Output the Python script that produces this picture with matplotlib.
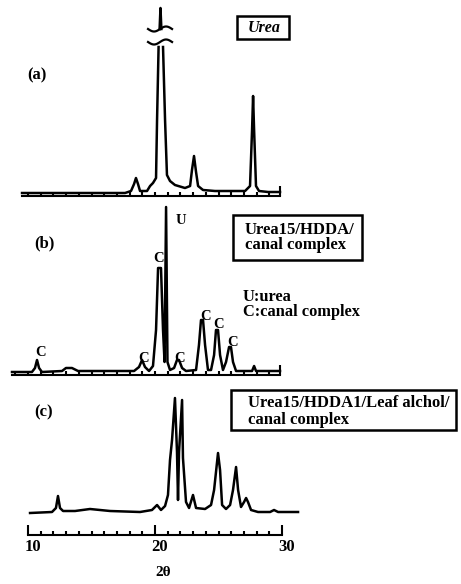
import numpy as np
import matplotlib
matplotlib.use("Agg")
import matplotlib.pyplot as plt
from matplotlib.patches import Rectangle
from matplotlib.ticker import FixedLocator
from matplotlib.transforms import ScaledTranslation

# ---------------- data (2theta in degrees, intensity in arbitrary units) ----------------
# (a) Urea
a_2theta = [9.53, 17.64, 18.11, 18.35, 18.50, 18.66, 18.82, 19.37, 19.61, 19.84, 20.08, 20.16, 20.28,
            np.nan, 20.63, 20.79, 20.94, 21.18, 21.57, 22.36, 22.76, 22.91, 23.07, 23.23, 23.39, 23.78,
            24.72, 27.09, 27.48, 27.64, 27.72, 27.80, 27.95, 28.19, 28.90, 29.84]
a_int = [2, 2, 4, 11, 17, 11, 4, 4, 9, 12, 17, 75, 148,
         np.nan, 148, 75, 20, 14, 10, 7, 9, 25, 39, 23, 9, 5,
         4, 4, 9, 65, 99, 65, 9, 4, 3, 3]
# top of the off-scale main urea peak (above the axis break)
a_top_2theta = [20.36, 20.43, 20.50]
a_top_int = [166, 187, 166]
a_break_2theta = (19.45, 21.34)
a_break_int = [166, 153]
a_range = (9.53, 29.84)

# (b) Urea15/HDDA/canal complex
b_2theta = [8.74, 10.31, 10.55, 10.71, 10.87, 11.10, 12.68, 12.99, 13.46, 13.94, 18.35, 18.74, 18.98,
            19.21, 19.53, 19.84, 20.08, 20.24, 20.47, 20.63, 20.75, 20.87, 20.98, 21.18, 21.50, 21.73,
            21.89, 22.13, 22.44, 23.23, 23.46, 23.62, 23.78, 23.94, 24.17, 24.41, 24.65, 24.80, 24.96,
            25.12, 25.35, 25.59, 25.83, 25.98, 26.14, 26.38, 27.64, 27.80, 27.95, 29.84]
b_int = [1, 1, 5, 13, 5, 1, 2, 5, 5, 2, 2, 6, 13,
         6, 2, 7, 43, 105, 105, 43, 11, 166, 11, 3, 5, 13,
         13, 5, 2, 3, 28, 53, 53, 28, 3, 3, 18, 43, 43,
         18, 3, 11, 26, 26, 11, 2, 2, 7, 2, 2]
b_range = (8.74, 29.84)
b_c_2theta = [11.02, 19.13, 20.31, 21.97, 23.94, 25.04, 26.14]
b_c_int = [20, 15, 115, 15, 56, 48, 31]
b_u_2theta = 22.05
b_u_int = 152

# (c) Urea15/HDDA1/Leaf alchol/canal complex
c_2theta = [10.16, 11.89, 12.20, 12.36, 12.52, 12.76, 13.70, 14.88, 16.46, 18.82, 19.76, 20.16, 20.47,
            20.79, 21.02, 21.18, 21.34, 21.57, 21.73, 21.81, 21.89, 22.13, 22.20, 22.44, 22.68, 22.99,
            23.23, 23.94, 24.41, 24.65, 24.96, 25.12, 25.28, 25.59, 25.91, 26.14, 26.38, 26.54, 26.77,
            27.01, 27.17, 27.32, 27.56, 28.11, 29.06, 29.37, 29.69, 31.26]
c_int = [0, 1, 5, 17, 5, 2, 2, 4, 2, 1, 3, 8, 3,
         7, 18, 53, 73, 115, 61, 13, 61, 113, 55, 11, 5, 18,
         5, 4, 8, 23, 60, 43, 8, 4, 8, 23, 46, 23, 6,
         11, 15, 11, 3, 1, 1, 3, 1, 1]

x_ticks_major = [10, 20, 30]
x_ticklabels = ["10", "20", "30"]
x_label = "2θ"

# ---------------- layout ----------------
W, H = 461, 584
fig = plt.figure(figsize=(W / 100, H / 100), dpi=100)
X0, X1 = 7.795, 44.09
LW = 1.8
SERIF = ["Liberation Serif", "DejaVu Serif"]


def fx(px):
    return px / W


def fy(py):
    return 1 - py / H


def make_axes(top_px, bottom_px, base_px):
    ax = fig.add_axes([0, fy(bottom_px), 1, (bottom_px - top_px) / H])
    ax.set_xlim(X0, X1)
    ax.set_ylim(base_px - bottom_px, base_px - top_px)
    ax.patch.set_alpha(0)
    for s in ("top", "right", "left"):
        ax.spines[s].set_visible(False)
    ax.spines["bottom"].set_linewidth(1.5)
    ax.set_yticks([])
    return ax


def scale_ticks(ax, lo, hi, end_tick=True):
    ax.spines["bottom"].set_bounds(lo, hi)
    minors = [v for v in range(int(np.ceil(lo)), int(np.floor(hi)) + 1)]
    ax.xaxis.set_minor_locator(FixedLocator(minors))
    if end_tick:
        ax.xaxis.set_major_locator(FixedLocator([hi]))
        ax.tick_params(axis="x", which="major", direction="in", length=7, width=1.5, labelbottom=False)
    ax.tick_params(axis="x", which="minor", direction="in", length=3, width=1.5)


# panel (a)
ax_a = make_axes(0, 196, 195)
scale_ticks(ax_a, *a_range)
ax_a.plot(a_2theta, a_int, color="black", lw=LW, solid_joinstyle="round")
ax_a.plot(a_top_2theta, a_top_int, color="black", lw=LW)
t = np.linspace(0, 1, 40)
for yb in a_break_int:
    ax_a.plot(a_break_2theta[0] + t * (a_break_2theta[1] - a_break_2theta[0]),
              yb - 2.5 * np.sin(2 * np.pi * t), color="black", lw=1.6)

# panel (b)
ax_b = make_axes(200, 375, 373)
scale_ticks(ax_b, *b_range)
ax_b.plot(b_2theta, b_int, color="black", lw=LW, solid_joinstyle="round")
for xc, yc in zip(b_c_2theta, b_c_int):
    ax_b.text(xc, yc, "C", ha="center", va="center", fontsize=10.5, fontweight="bold", family=SERIF)
ax_b.text(b_u_2theta, b_u_int, "U", ha="center", va="center", fontsize=10.5, fontweight="bold", family=SERIF)

# panel (c) with the 2theta scale
ax_c = make_axes(380, 535, 513)
scale_ticks(ax_c, x_ticks_major[0], x_ticks_major[-1], end_tick=False)
ax_c.set_xticks(x_ticks_major)
ax_c.set_xticklabels(x_ticklabels)
ax_c.tick_params(axis="x", which="major", direction="in", length=7, width=1.5, pad=3)
shift = ScaledTranslation(5 / 100, 0, fig.dpi_scale_trans)
for lab in ax_c.get_xticklabels():
    lab.set_fontfamily(SERIF)
    lab.set_fontweight("bold")
    lab.set_fontsize(12)
    lab.set_transform(lab.get_transform() + shift)
ax_c.plot(c_2theta, c_int, color="black", lw=LW, solid_joinstyle="round")

fig.text(fx(163), fy(573), x_label, ha="center", va="center", fontsize=11, fontweight="bold", family=SERIF)

# panel letters
for lab, (px, py) in zip(["(a)", "(b)", "(c)"], [(37, 75), (44, 243), (44, 412)]):
    fig.text(fx(px), fy(py), lab, ha="center", va="center", fontsize=12, fontweight="bold", family=SERIF)

# boxes with sample names
boxes = [(237, 16, 289, 39), (233, 215, 362, 260), (231, 390, 456, 430)]
for (x0, y0, x1, y1) in boxes:
    fig.patches.append(Rectangle((fx(x0), fy(y1)), fx(x1) - fx(x0), fy(y0) - fy(y1),
                                 transform=fig.transFigure, fill=False, lw=1.8, ec="black"))
fig.text(fx(264), fy(28), "Urea", ha="center", va="center", fontsize=11.5, fontweight="bold",
         style="italic", family=SERIF)
fig.text(fx(245), fy(230), "Urea15/HDDA/", ha="left", va="center", fontsize=12, fontweight="bold", family=SERIF)
fig.text(fx(245), fy(245), "canal complex", ha="left", va="center", fontsize=12, fontweight="bold", family=SERIF)
fig.text(fx(248), fy(403), "Urea15/HDDA1/Leaf alchol/", ha="left", va="center", fontsize=12,
         fontweight="bold", family=SERIF)
fig.text(fx(248), fy(420), "canal complex", ha="left", va="center", fontsize=12, fontweight="bold", family=SERIF)

fig.text(fx(243), fy(297), "U:urea", ha="left", va="center", fontsize=11.8, fontweight="bold", family=SERIF)
fig.text(fx(243), fy(312), "C:canal complex", ha="left", va="center", fontsize=11.8, fontweight="bold",
         family=SERIF)

fig.savefig("out.png", dpi=100, facecolor="white")
